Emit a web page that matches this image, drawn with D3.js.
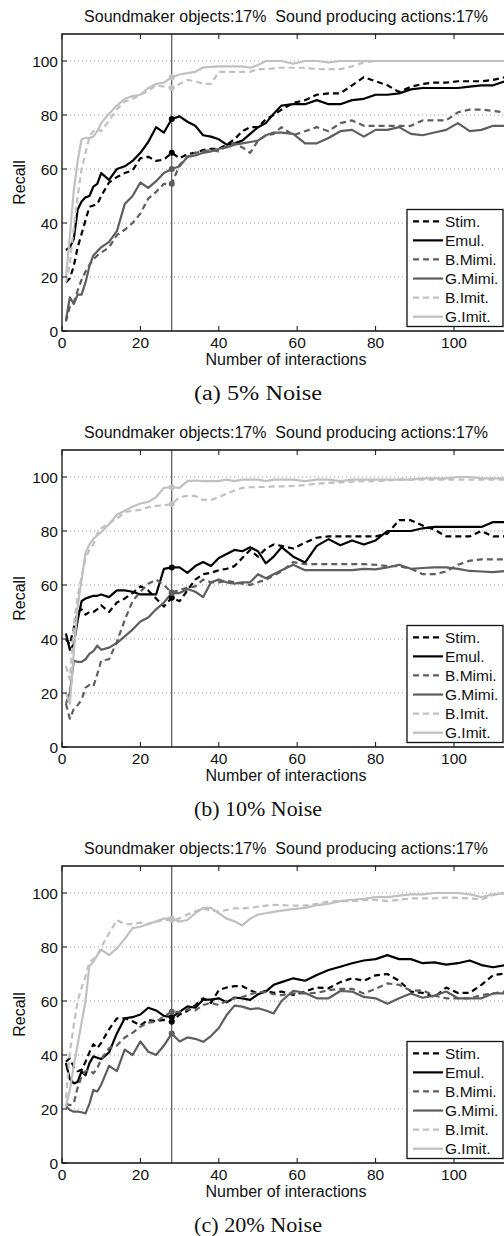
<!DOCTYPE html>
<html>
<head>
<meta charset="utf-8">
<script src="https://cdn.jsdelivr.net/npm/d3@7"></script>
<style>
  html, body { margin: 0; padding: 0; background: #fff; }
  svg { display: block; }
</style>
</head>
<body>
<div id="chart"></div>
<script>
// Interaction counts at which recall was sampled (shared by every curve)
const interactions = [1,2,3,4,5,6,7,8,9,10,12,14,16,18,20,22,24,26,28,30,32,34,36,38,40,42,44,46,48,50,52,54,56,59,62,65,68,71,74,77,80,83,86,89,92,95,98,101,104,107,110,113];

const seriesNames = ["Stim.", "Emul.", "B.Mimi.", "G.Mimi.", "B.Imit.", "G.Imit."];
const titleText = "Soundmaker objects:17%  Sound producing actions:17%";
const panelCaptions = ["(a) 5% Noise", "(b) 10% Noise", "(c) 20% Noise"];
const xTicks = [0, 20, 40, 60, 80, 100];
const yTicks = [0, 20, 40, 60, 80, 100];
const markedInteraction = 28;

// ---- 5% noise ----
const stim5  = [18,19.5,24,31,36,41,46,46.5,47,50, 55,57,58.5,59.5,64,64.5,63,63.5,66,64, 65.5,66,67,67.5,67.5,69,71,74,75.5,75.5, 78.5,80,82,84.5,85.5,87.5,88,88,91,94, 92.5,91,88.5,90.5,91.5,92,92,92.5,92.5,92.5, 93,94];
const emul5  = [30,31,34,45,48,49.5,50,53.5,54.5,58.5, 56,60,61,63,66,70,75.5,73.5,78.5,79.5, 77.5,76,72.5,72,71,69,69.5,70.5,73,75.5, 77,80.5,83.5,84,84,85.5,84,84,85.5,86, 87.5,87.5,88,89.5,90,90,90,90,90.5,91, 91,92.5];
const bMimi5 = [3.5,9,10.5,15,19,22,24.5,26.5,28,29, 31,35.5,37.5,40,43.5,49,51.5,54.5,54.5,61.5, 64.5,66,66.5,67,66.5,68.5,69.5,68,66,70.5, 72.5,73,75.5,72.5,74,75.5,74,77,78,76, 76,76,76,76,78,78,78,81,82,82, 81.5,81];
const gMimi5 = [4,12.5,10,13.5,13.5,18,24,28,29.5,31, 33,37,47,50,55,53,55.5,58.5,60,61, 64.5,65,66,66.5,67.5,68,69,69.5,70,70.5, 72.5,73.5,73.5,73,69.5,69.5,71.5,74,74.5,72, 74.5,74.5,75.5,73,72.5,73.5,74.5,77,74,74.5, 76,76];
const bImit5 = [18,25,38,50,60,66,72,74,75,74, 78,82,85,86,87.5,89,91,90.5,90,91.5, 93,92.5,91.5,91.5,96,96,96,96,96,97, 97,97.3,97.5,97.5,97.5,97,97,97,98,99.5, 100,100,100,100,100,100,100,100,100,100, 100,100];
const gImit5 = [20,35,52,63,71,71.5,71.5,72,74,77, 80.5,83.5,86,87,87.5,90,91.5,92,94,95, 95.5,96,97.6,97.8,98,98,98,98,97.5,98.5, 100,100,100,99,100,100,99.5,100,100,100, 100,100,100,100,100,100,100,100,100,100, 100,100];

// ---- 10% noise ----
const stim10  = [40,38,44,50,51,49,50,50,51,52.5, 50,53.5,55,57,59.5,58,55,52,55.3,54, 58,62,64,64.5,65.5,66,67,70,73,70.5, 73.5,75,74.5,73.5,75.7,77.5,78,78,78,78, 78,79,84,84,82,80.5,78,78,78,80, 78,78];
const emul10  = [42,36,38,47,54,55,55.5,56,56,56.5, 55.5,58,58,57.5,56.5,56.5,56.5,66,66.5,66.5, 64.5,67,68.5,67,70,71.5,73,72.5,74,72.5, 68,70.5,74,70.5,68.3,74.5,77,74.7,76.5,75, 76.5,80,80,80,81,81.5,81.5,81.5,81.5,81.5, 83.3,83.3];
const bMimi10 = [16,10.5,14,15.5,17.5,22,23,22.5,27,32, 32.5,39,47,54,57.5,60.5,62,60,57.2,58.2, 59,59.5,62,61,61,61.5,61,60.5,60,61, 62,63.5,65,68.5,67.7,67.7,67.7,67.7,67.7,67.7, 67.5,67,67,66,64,64,65,67.5,69,69.5, 69.5,69.5];
const gMimi10 = [16,20,32,31.5,31.5,32.5,34.5,35.5,37.5,36, 36.8,38.5,41,43.5,46.5,48,51,53.5,57,57, 58.5,57.5,55.5,61,62,61,60.5,61,61,64, 62.5,64,65.5,67.5,65.5,65.5,65.5,65.5,65.5,66, 65.8,66.5,67.5,66,66.3,66.5,66.5,66,65.2,65, 64.8,65.2];
const bImit10 = [30,25,45,56,63,70,73,75,79,81, 83,84.5,87,87.5,87.8,88.8,89.3,89.5,90,92.5, 93,93,91.5,91.5,92.5,93.8,95,96,96.2,96.3, 96.3,96.5,96.5,96.7,97,97.5,97.8,98,98.3,98.5, 98.5,98.7,99,99,99,99,99,99,99,99, 99,99];
const gImit10 = [20,16,35,52,62,72,75,77,78.5,79.5, 82.5,86,87.5,89,90.2,90.8,92.5,96,96.2,96, 98.5,98.7,98.5,98.5,98.5,99,98.5,99,99,99, 98.5,99,99,99,98.5,99,99,98.5,99,99, 99,99,99,99,99.5,99.5,99.5,100,100,99.5, 99.5,99.5];

// ---- 20% noise ----
const stim20  = [37.5,38.8,35.5,34,34.5,37.5,41,44,42.5,44.5, 49.5,53.6,53.6,52.5,51,53,52.5,53,52.3,55, 56.3,58.5,61,59.3,64,65,65.5,65.5,64,62.8, 63.8,63,63.5,62.2,63.5,65,64.7,67,68.4,67.5, 69.5,70,67.5,63.5,63,61.5,65,63,63,66, 69.6,70.2];
const emul20  = [37,31,29.5,30,34,32.5,37,39.5,39,38.5, 41,48,53.6,54,55,57.5,56.5,54.5,54,56, 58,57.5,60.5,60.5,61,59.5,61.3,61,60.4,62.5, 63.5,66,67,68.4,67.5,69.6,71.5,72.7,74,75, 75.5,77,75.5,75.5,74,74.3,73.5,74,75,73.3, 72.5,73.3];
const bMimi20 = [22,21.4,22,28,32,34,34.5,33.2,35,38.5, 42.5,43.5,46.5,48.2,50.5,52,52.3,54.3,56,56, 57,56.5,58.5,59.3,58.5,60,61,61.5,62.5,63.3, 63.3,62.5,62.2,62.8,62.8,63,64,64.5,64.5,62.8, 64.5,66.5,66,63.8,64,62,61,61,61,62.2, 62.8,63.5];
const gMimi20 = [21,19.6,19,19,18.8,18.4,22,27,26.5,29, 36,34,42,40,45,41.2,40,43.5,48,45, 46.5,46,44.9,47,50,54.8,58.3,57.9,57,57.3, 56.5,55.4,60,63.8,63,61,61,63.7,63.5,61.5, 61,59,61,62.8,61.2,62,63.5,61,61,61, 62.8,62.8];
const bImit20 = [24,41,51,60,65,69,74.5,75.5,77,80, 85,90,88.5,88.5,89,88.5,89.4,90,90,90.6, 92,93.2,94.3,93.5,93.2,93.7,94.3,94.3,94.5,94.9, 95.3,95.6,95.5,95.3,95.3,96,96.8,97,97,97.4, 97.4,97,97.5,98,98,98,98.3,98.2,98,97.6, 99.3,99.8];
const gImit20 = [21,27,36,44,52,60,73,74.5,77,79, 77,79.5,83,87,87.5,88.5,89.5,90.5,90.6,89.4, 90,92.5,94.5,94.5,92.5,90.5,89.5,88,90.5,92, 92.5,93,93.5,94,94.5,95.5,96,97,97.5,97.8, 98.5,98.5,99,99.5,99.5,100,100,100,99.5,98.5, 99.5,100];

const panels = [
  [stim5, emul5, bMimi5, gMimi5, bImit5, gImit5],
  [stim10, emul10, bMimi10, gMimi10, bImit10, gImit10],
  [stim20, emul20, bMimi20, gMimi20, bImit20, gImit20]
];

// Line appearance per series (same order as seriesNames)
const styles = [
  { color: "#000000", dash: "6,4" },
  { color: "#000000", dash: null },
  { color: "#5e5e5e", dash: "6,4" },
  { color: "#5e5e5e", dash: null },
  { color: "#c0c0c0", dash: "6,4" },
  { color: "#c0c0c0", dash: null }
];

const W = 504, H = 1236, panelStep = 416;
const sans = "'Liberation Sans', Arial, Helvetica, sans-serif";

const svg = d3.select("#chart").append("svg")
  .attr("width", W).attr("height", H)
  .attr("viewBox", `0 0 ${W} ${H}`);

const x = d3.scaleLinear().domain([0, 115]).range([62, 62 + 115 * 3.92]);
const y = d3.scaleLinear().domain([0, 110]).range([331, 34]);
const [x0, x1] = x.range();
const [yb, yt] = y.range();

svg.append("defs").append("clipPath").attr("id", "plotClip")
  .append("rect").attr("x", x0).attr("y", yt).attr("width", x1 - x0).attr("height", yb - yt);

const markIdx = interactions.indexOf(markedInteraction);

panels.forEach((series, p) => {
  const g = svg.append("g").attr("transform", `translate(0,${p * panelStep})`);

  // title
  g.append("text")
    .attr("x", 286).attr("y", 22)
    .attr("text-anchor", "middle")
    .style("white-space", "pre")
    .attr("font-family", sans).attr("font-size", 16).attr("fill", "#111")
    .text(titleText);

  // white plot background
  g.append("rect").attr("x", x0).attr("y", yt).attr("width", x1 - x0).attr("height", yb - yt).attr("fill", "#fff");

  // dotted horizontal grid
  g.append("g").selectAll("line").data(yTicks.filter(v => v > 0)).join("line")
    .attr("x1", x0).attr("x2", x1)
    .attr("y1", d => y(d)).attr("y2", d => y(d))
    .attr("stroke", "#9a9a9a").attr("stroke-width", 1)
    .attr("stroke-dasharray", "1,3");

  // curves
  const plot = g.append("g").attr("clip-path", "url(#plotClip)");
  const line = d3.line().x((d, i) => x(interactions[i])).y(d => y(d));
  series.forEach((vals, s) => {
    plot.append("path")
      .datum(vals)
      .attr("d", line)
      .attr("fill", "none")
      .attr("stroke", styles[s].color)
      .attr("stroke-width", 2.2)
      .attr("stroke-linejoin", "round")
      .attr("stroke-dasharray", styles[s].dash);
  });

  // marker line at the chosen interaction count
  plot.append("line")
    .attr("x1", x(markedInteraction)).attr("x2", x(markedInteraction))
    .attr("y1", yt).attr("y2", yb)
    .attr("stroke", "#333").attr("stroke-width", 1);

  series.forEach((vals, s) => {
    plot.append("circle")
      .attr("cx", x(interactions[markIdx]))
      .attr("cy", y(vals[markIdx]))
      .attr("r", 3)
      .attr("fill", styles[s].color);
  });

  // axes frame (top, left, bottom)
  g.append("path")
    .attr("d", `M${x1},${yt}H${x0}V${yb}H${x1}`)
    .attr("fill", "none").attr("stroke", "#111").attr("stroke-width", 1.3);

  // inward ticks
  const tk = g.append("g").attr("stroke", "#111").attr("stroke-width", 1);
  tk.selectAll("line.b").data(xTicks).join("line").attr("class", "b")
    .attr("x1", d => x(d)).attr("x2", d => x(d)).attr("y1", yb).attr("y2", yb - 5);
  tk.selectAll("line.t").data(xTicks).join("line").attr("class", "t")
    .attr("x1", d => x(d)).attr("x2", d => x(d)).attr("y1", yt).attr("y2", yt + 5);
  tk.selectAll("line.l").data(yTicks).join("line").attr("class", "l")
    .attr("x1", x0).attr("x2", x0 + 5).attr("y1", d => y(d)).attr("y2", d => y(d));

  // tick labels
  g.append("g").selectAll("text").data(xTicks).join("text")
    .attr("x", d => x(d)).attr("y", 348)
    .attr("text-anchor", "middle")
    .attr("font-family", sans).attr("font-size", 15.5).attr("fill", "#111")
    .text(d => d);
  g.append("g").selectAll("text").data(yTicks).join("text")
    .attr("x", 58).attr("y", d => y(d))
    .attr("dy", "0.36em")
    .attr("text-anchor", "end")
    .attr("font-family", sans).attr("font-size", 15.5).attr("fill", "#111")
    .text(d => d);

  // axis titles
  g.append("text")
    .attr("x", 286).attr("y", 365)
    .attr("text-anchor", "middle")
    .attr("font-family", sans).attr("font-size", 16).attr("fill", "#111")
    .text("Number of interactions");
  g.append("text")
    .attr("transform", `translate(25,${(yt + yb) / 2}) rotate(-90)`)
    .attr("text-anchor", "middle")
    .attr("font-family", sans).attr("font-size", 16).attr("fill", "#111")
    .text("Recall");

  // legend
  const lg = g.append("g");
  lg.append("rect")
    .attr("x", 407).attr("y", 209.5).attr("width", 96).attr("height", 117)
    .attr("fill", "#fff").attr("stroke", "#111").attr("stroke-width", 1.3);
  seriesNames.forEach((name, s) => {
    const ry = 221.3 + s * 19.08;
    lg.append("line")
      .attr("x1", 413).attr("x2", 443).attr("y1", ry).attr("y2", ry)
      .attr("stroke", styles[s].color).attr("stroke-width", 2.2)
      .attr("stroke-dasharray", styles[s].dash);
    lg.append("text")
      .attr("x", 445).attr("y", ry).attr("dy", "0.36em")
      .attr("font-family", sans).attr("font-size", 15.5).attr("fill", "#111")
      .text(name);
  });

  // sub-figure caption
  g.append("text")
    .attr("x", 258).attr("y", 400)
    .attr("text-anchor", "middle")
    .attr("font-family", "'Liberation Serif', 'Times New Roman', serif")
    .attr("font-size", 20).attr("fill", "#111")
    .attr("textLength", 128).attr("lengthAdjust", "spacingAndGlyphs")
    .text(panelCaptions[p]);
});
</script>
</body>
</html>
